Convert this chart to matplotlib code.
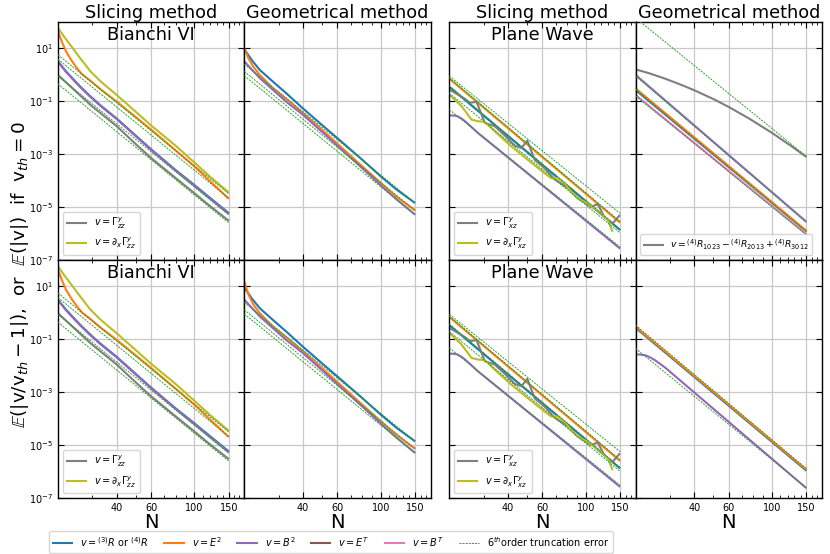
import numpy as np
import matplotlib
matplotlib.use('Agg')
import matplotlib.pyplot as plt
from matplotlib.lines import Line2D
from matplotlib.ticker import (FixedLocator, FixedFormatter, MultipleLocator,
                               NullFormatter, NullLocator, LogFormatterSciNotation)

# ---------------- colours ----------------
C_BLUE, C_ORANGE, C_PURPLE = '#1f77b4', '#ff7f0e', '#9467bd'
C_BROWN, C_PINK, C_GRAY = '#8c564b', '#e377c2', '#7f7f7f'
C_OLIVE, C_GREEN = '#bcbd22', '#2ca02c'

# ---------------- axes text ----------------
col_titles = ['Slicing method', 'Geometrical method', 'Slicing method', 'Geometrical method']
panel_names = ['Bianchi VI', '', 'Plane Wave', '']
x_ticks = [40, 60, 100, 150]
x_ticklabels = ['40', '60', '100', '150']
y_ticks = [1e-7, 1e-5, 1e-3, 1e-1, 1e1]

# ---------------- data (log10 of the error) ----------------
trunc_N = [20, 150]

# Bianchi VI, slicing method
bs_olive_N = [20, 21.5, 23.8, 26, 29.2, 33, 40, 50, 60, 80, 100, 120, 150]
bs_olive = [1.76, 1.43, 1.00, 0.62, 0.14, -0.25, -0.77, -1.40, -1.92, -2.68, -3.32, -3.85, -4.45]
bs_orange_N = [20, 21, 22, 23.3, 24.7, 26.5, 29.2, 33, 40, 50, 60, 80, 100, 120, 150]
bs_orange = [1.63, 1.22, 0.87, 0.57, 0.30, 0.02, -0.22, -0.55, -1.02, -1.60, -2.08, -2.86, -3.47, -4.02, -4.69]
bs_bp_N = [20, 22, 24, 26, 29.2, 33, 40, 50, 60, 80, 100, 120, 150]
bs_blue = [0.50, 0.12, -0.18, -0.45, -0.81, -1.16, -1.66, -2.30, -2.82, -3.60, -4.17, -4.65, -5.23]
bs_purple = [0.49, 0.10, -0.20, -0.47, -0.83, -1.18, -1.68, -2.32, -2.84, -3.62, -4.20, -4.68, -5.26]
bs_gray_N = [20, 24, 29.2, 33, 40, 50, 60, 80, 100, 120, 150]
bs_gray = [-0.01, -0.55, -1.13, -1.45, -1.95, -2.62, -3.15, -3.90, -4.48, -4.96, -5.52]
bs_trunc_start = [0.75, 0.58, -0.05, -0.35]
bs_trunc_end = [-4.50, -4.67, -5.30, -5.60]

# Bianchi VI, geometrical method
bg_N = [20, 22, 24, 28, 33, 40, 50, 60, 80, 100, 120, 150]
bg_blue = [0.96, 0.52, 0.18, -0.26, -0.72, -1.28, -1.90, -2.40, -3.20, -3.84, -4.33, -4.85]
bg_purple = [0.50, 0.17, -0.13, -0.57, -1.04, -1.52, -2.16, -2.69, -3.52, -4.18, -4.70, -5.29]
bg_orange_N = [20, 21, 22.2, 24, 28, 33, 40, 50, 60, 80, 100, 120, 150]
bg_orange = [1.00, 0.62, 0.31, -0.01, -0.51, -0.93, -1.45, -2.08, -2.61, -3.45, -4.09, -4.60, -5.13]
bg2_orange = [1.19, 0.70, 0.33, -0.01, -0.51, -0.93, -1.45, -2.08, -2.61, -3.45, -4.09, -4.60, -5.13]
bg_trunc_start = [0.40, 0.12, -0.04]
bg_trunc_end = [-4.85, -5.13, -5.29]

# Plane wave, slicing method
ps_line_N = [20, 150]
ps_orange = [-0.15, -5.59]
ps_blue = [-0.46, -5.87]
ps_purple_N = [20, 21, 22, 23, 24, 26, 28, 150]
ps_purple = [-1.54, -1.54, -1.57, -1.65, -1.75, -1.98, -2.20, -6.57]
ps_gray_N = [20, 24.0, 25.5, 27.6, 30.4, 34.2, 38.5, 43.3, 46.8, 50.2, 54.7, 61.5, 69.2, 81.0,
             91.0, 106.5, 115.2, 124.5, 137.3, 149.6]
ps_gray = [-0.56, -0.91, -1.06, -1.03, -1.82, -1.95, -2.30, -2.68, -2.77, -2.49, -3.22, -3.53, -3.95,
           -4.29, -4.67, -4.99, -4.89, -5.37, -5.62, -5.30]
ps_olive_N = [20, 23.1, 26.0, 28.1, 30.4, 34.2, 41.6, 50.6, 61.5, 66.5, 72.0, 77.9, 84.2, 91.0,
              102.4, 119.7, 129.5, 137.3]
ps_olive = [-0.75, -1.19, -1.70, -1.76, -1.78, -2.14, -2.71, -3.22, -3.72, -3.91, -3.91, -4.10, -4.42,
            -4.67, -4.86, -5.24, -5.47, -5.94]
ps_trunc_start = [-0.05, -0.12, -0.42, -0.70, -1.32]
ps_trunc_end = [-5.24, -5.55, -5.84, -5.98, -6.51]

# Plane wave, geometrical method (top row, v_th = 0)
pg_gray_N = [20, 23.3, 28.3, 34.4, 40, 50.7, 60, 75.6, 100, 111, 125, 150]
pg_gray = [0.20, 0.06, -0.15, -0.39, -0.59, -0.94, -1.22, -1.64, -2.20, -2.43, -2.69, -3.11]
pg_line_N = [20, 150]
pg_purple = [-0.01, -5.56]
pg_orange = [-0.52, -5.90]
pg_blue = [-0.58, -5.92]
pg_pink = [-0.77, -6.03]
pg_trunc_start = [2.14, -0.05, -0.55, -0.80]
pg_trunc_end = [-3.09, -5.58, -5.92, -6.05]

# Plane wave, geometrical method (bottom row)
pg2_orange = [-0.52, -5.92]
pg2_blue = [-0.56, -5.96]
pg2_purple_N = [20, 21, 22.4, 23.5, 25.1, 28.3, 150]
pg2_purple = [-1.57, -1.57, -1.60, -1.66, -1.78, -2.06, -6.62]
pg2_trunc_start = [-0.46, -1.34]
pg2_trunc_end = [-5.88, -6.60]

# ---------------- labels ----------------
fig_labels = [r'$v = {}^{(3)}R$ or ${}^{(4)}R$', r'$v = E^2$', r'$v = B^2$', r'$v = E^T$',
              r'$v = B^T$', r'$6^{th}$order truncation error']
bianchi_labels = [r'$v = \Gamma^y_{zz}$', r'$v = \partial_x\Gamma^y_{zz}$']
plane_labels = [r'$v = \Gamma^y_{xz}$', r'$v = \partial_x\Gamma^y_{xz}$']
riemann_label = r'$v = {}^{(4)}R_{1023} - {}^{(4)}R_{2013} + {}^{(4)}R_{3012}$'
ylabel = (r'$\mathbb{E}(|$v/v$_{th} - 1|)$,  or  '
          r'$\mathbb{E}(|$v$|)$  if  v$_{th} = 0$')

# ---------------- figure ----------------
W, H = 830, 554
fig = plt.figure(figsize=(W / 100, H / 100), dpi=100)
lefts = [58.0, 244.3, 449.3, 635.6]
tops = [21.7, 260.0]
aw, ah = 186.3, 238.3

LW = 1.5
TRUNC_LS = (0, (2, 1.2))


def curve(ax, N, logv, color, **kw):
    ax.plot(N, np.power(10.0, logv), color=color, lw=LW, solid_capstyle='butt', **kw)


def trunc(ax, starts, ends):
    for s, e in zip(starts, ends):
        ax.plot(trunc_N, np.power(10.0, [s, e]), color=C_GREEN, lw=0.7, ls=TRUNC_LS, zorder=3)


axes = [[None] * 4 for _ in range(2)]
for r in range(2):
    for c in range(4):
        ax = fig.add_axes([lefts[c] / W, 1 - (tops[r] + ah) / H, aw / W, ah / H])
        axes[r][c] = ax
        ax.set_xscale('log')
        ax.set_yscale('log')
        ax.set_xlim(20, 180)
        ax.set_ylim(1e-7, 1e2)
        ax.xaxis.set_major_locator(FixedLocator(x_ticks))
        ax.xaxis.set_major_formatter(FixedFormatter(x_ticklabels))
        ax.xaxis.set_minor_locator(MultipleLocator(10))
        ax.xaxis.set_minor_formatter(NullFormatter())
        ax.yaxis.set_major_locator(FixedLocator(y_ticks))
        ax.yaxis.set_major_formatter(LogFormatterSciNotation())
        ax.yaxis.set_minor_locator(NullLocator())
        ax.tick_params(which='both', direction='in', top=True, right=True, labelsize=7)
        ax.tick_params(which='major', length=4, width=0.8)
        ax.tick_params(which='minor', length=2, width=0.6)
        ax.grid(True, which='major', color='#c8c8c8', lw=0.9)
        ax.set_axisbelow(True)
        for sp in ax.spines.values():
            sp.set_linewidth(1.0)
        if c != 0:
            ax.tick_params(labelleft=False)
        if r == 0:
            ax.tick_params(labelbottom=False)
            ax.set_title(col_titles[c], fontsize=12.7, pad=2.5)
        else:
            ax.set_xlabel('N', fontsize=14, labelpad=0)
        if panel_names[c]:
            ax.text(0.5, 0.923, panel_names[c], transform=ax.transAxes, ha='center',
                    va='baseline', fontsize=12.7)

# Bianchi VI slicing (both rows)
for r in range(2):
    ax = axes[r][0]
    curve(ax, bs_bp_N, bs_blue, C_BLUE)
    curve(ax, bs_orange_N, bs_orange, C_ORANGE)
    curve(ax, bs_bp_N, bs_purple, C_PURPLE)
    curve(ax, bs_gray_N, bs_gray, C_GRAY)
    curve(ax, bs_olive_N, bs_olive, C_OLIVE)
    trunc(ax, bs_trunc_start, bs_trunc_end)
    ax.legend([Line2D([], [], color=C_GRAY, lw=LW), Line2D([], [], color=C_OLIVE, lw=LW)],
              bianchi_labels, loc='lower left', fontsize=7)

# Bianchi VI geometrical
for r, orng in ((0, bg_orange), (1, bg2_orange)):
    ax = axes[r][1]
    curve(ax, bg_N, bg_blue, C_BLUE)
    curve(ax, bg_orange_N, orng, C_ORANGE)
    curve(ax, bg_N, bg_purple, C_PURPLE)
    trunc(ax, bg_trunc_start, bg_trunc_end)

# Plane wave slicing (both rows)
for r in range(2):
    ax = axes[r][2]
    curve(ax, ps_line_N, ps_blue, C_BLUE)
    curve(ax, ps_line_N, ps_orange, C_ORANGE)
    curve(ax, ps_purple_N, ps_purple, C_PURPLE)
    curve(ax, ps_gray_N, ps_gray, C_GRAY)
    curve(ax, ps_olive_N, ps_olive, C_OLIVE)
    trunc(ax, ps_trunc_start, ps_trunc_end)
    ax.legend([Line2D([], [], color=C_GRAY, lw=LW), Line2D([], [], color=C_OLIVE, lw=LW)],
              plane_labels, loc='lower left', fontsize=7)

# Plane wave geometrical, top row
ax = axes[0][3]
curve(ax, pg_line_N, pg_blue, C_BLUE)
curve(ax, pg_line_N, pg_orange, C_ORANGE)
curve(ax, pg_line_N, pg_purple, C_PURPLE)
curve(ax, pg_line_N, pg_pink, C_PINK)
curve(ax, pg_gray_N, pg_gray, C_GRAY)
trunc(ax, pg_trunc_start, pg_trunc_end)
ax.legend([Line2D([], [], color=C_GRAY, lw=LW)], [riemann_label], loc='lower left', fontsize=6.7)

# Plane wave geometrical, bottom row
ax = axes[1][3]
curve(ax, pg_line_N, pg2_blue, C_BLUE)
curve(ax, pg_line_N, pg2_orange, C_ORANGE)
curve(ax, pg2_purple_N, pg2_purple, C_PURPLE)
trunc(ax, pg2_trunc_start, pg2_trunc_end)

# y label and figure legend
fig.text(20.0 / W, 1 - 275 / H, ylabel, rotation=90, ha='center', va='center', fontsize=13.2)

fig_handles = [Line2D([], [], color=col, lw=LW) for col in (C_BLUE, C_ORANGE, C_PURPLE, C_BROWN, C_PINK)]
fig_handles.append(Line2D([], [], color=C_GREEN, lw=0.7, ls=TRUNC_LS))
fig.legend(fig_handles, fig_labels, loc='upper left', bbox_to_anchor=(49 / W, 1 - 531 / H),
           ncol=6, fontsize=7, borderaxespad=0, columnspacing=1.6)

fig.savefig('out.png', dpi=100)
